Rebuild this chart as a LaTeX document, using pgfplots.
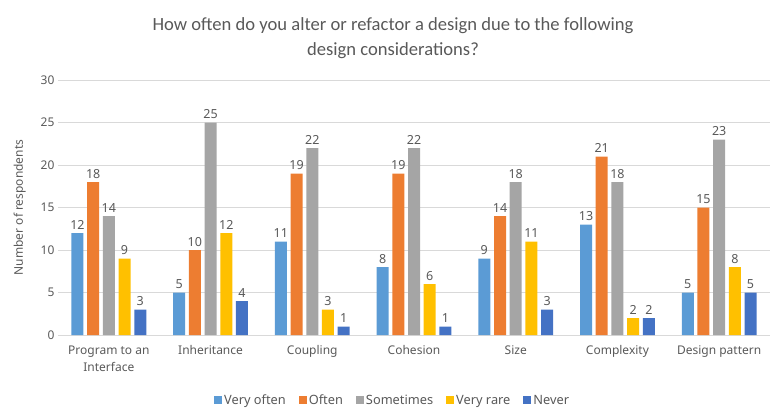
\documentclass[border=0pt]{standalone}
\usepackage{pgfplots}
\pgfplotsset{compat=1.18}
\usepackage{fontspec}
\setmainfont{Noto Sans}
\newfontfamily\titlefont{Carlito}
\definecolor{c1}{HTML}{5B9BD5}
\definecolor{c2}{HTML}{ED7D31}
\definecolor{c3}{HTML}{A5A5A5}
\definecolor{c4}{HTML}{FFC000}
\definecolor{c5}{HTML}{4472C4}
\definecolor{txt}{HTML}{595959}
\definecolor{gridc}{HTML}{D9D9D9}
\begin{document}
\begin{tikzpicture}
\begin{axis}[
  name=ax,
  scale only axis,
  width=712pt, height=255pt,
  ybar=3.7pt, bar width=12pt,
  xmin=-0.5, xmax=6.5,
  ymin=0, ymax=30,
  ytick={0,5,...,30},
  xtick=data,
  xticklabels={{Program to an\\Interface},Inheritance,Coupling,Cohesion,Size,Complexity,Design pattern},
  xticklabel style={align=center, font=\fontsize{12}{17}\selectfont, text=txt, yshift=-7pt},
  yticklabel style={font=\fontsize{12}{14}\selectfont, text=txt},
  /pgf/number format/assume math mode=true,
  major tick length=0pt,
  axis line style={draw=none},
  axis x line*=bottom,
  x axis line style={draw=gridc},
  ymajorgrids, grid style={gridc},
  ylabel={Number of respondents},
  ylabel style={font=\fontsize{12}{14}\selectfont, text=txt, yshift=8pt},
  nodes near coords,
  nodes near coords style={font=\fontsize{12.5}{14}\selectfont, text=txt, /pgf/number format/assume math mode=true},
  every axis plot/.append style={draw=none},
  legend style={at={(0.47,-0.222)}, anchor=north, draw=none, legend columns=-1,
     font=\fontsize{12.8}{15}\selectfont, text=txt, inner sep=1pt,
     /tikz/every even column/.append style={column sep=11pt}},
  legend image code/.code={\fill[#1] (0pt,-4pt) rectangle (8pt,4pt);},
  title={How often do you alter or refactor a design due to the following\\design considerations?},
  title style={align=center, font=\titlefont\fontsize{18.6}{25}\selectfont, text=txt, yshift=12pt, xshift=-21pt},
]
\addplot[fill=c1] coordinates {(0,12) (1,5) (2,11) (3,8) (4,9) (5,13) (6,5)};
\addplot[fill=c2] coordinates {(0,18) (1,10) (2,19) (3,19) (4,14) (5,21) (6,15)};
\addplot[fill=c3] coordinates {(0,14) (1,25) (2,22) (3,22) (4,18) (5,18) (6,23)};
\addplot[fill=c4] coordinates {(0,9) (1,12) (2,3) (3,6) (4,11) (5,2) (6,8)};
\addplot[fill=c5] coordinates {(0,3) (1,4) (2,1) (3,1) (4,3) (5,2) (6,5)};
\legend{Very often,Often,Sometimes,Very rare,Never}
\coordinate (pa) at (rel axis cs:0,0);
\coordinate (pb) at (rel axis cs:1,1);
\end{axis}
\pgfresetboundingbox
\path ([shift={(-58pt,-77pt)}]pa) rectangle ([shift={(1pt,80pt)}]pb);
\end{tikzpicture}
\end{document}
